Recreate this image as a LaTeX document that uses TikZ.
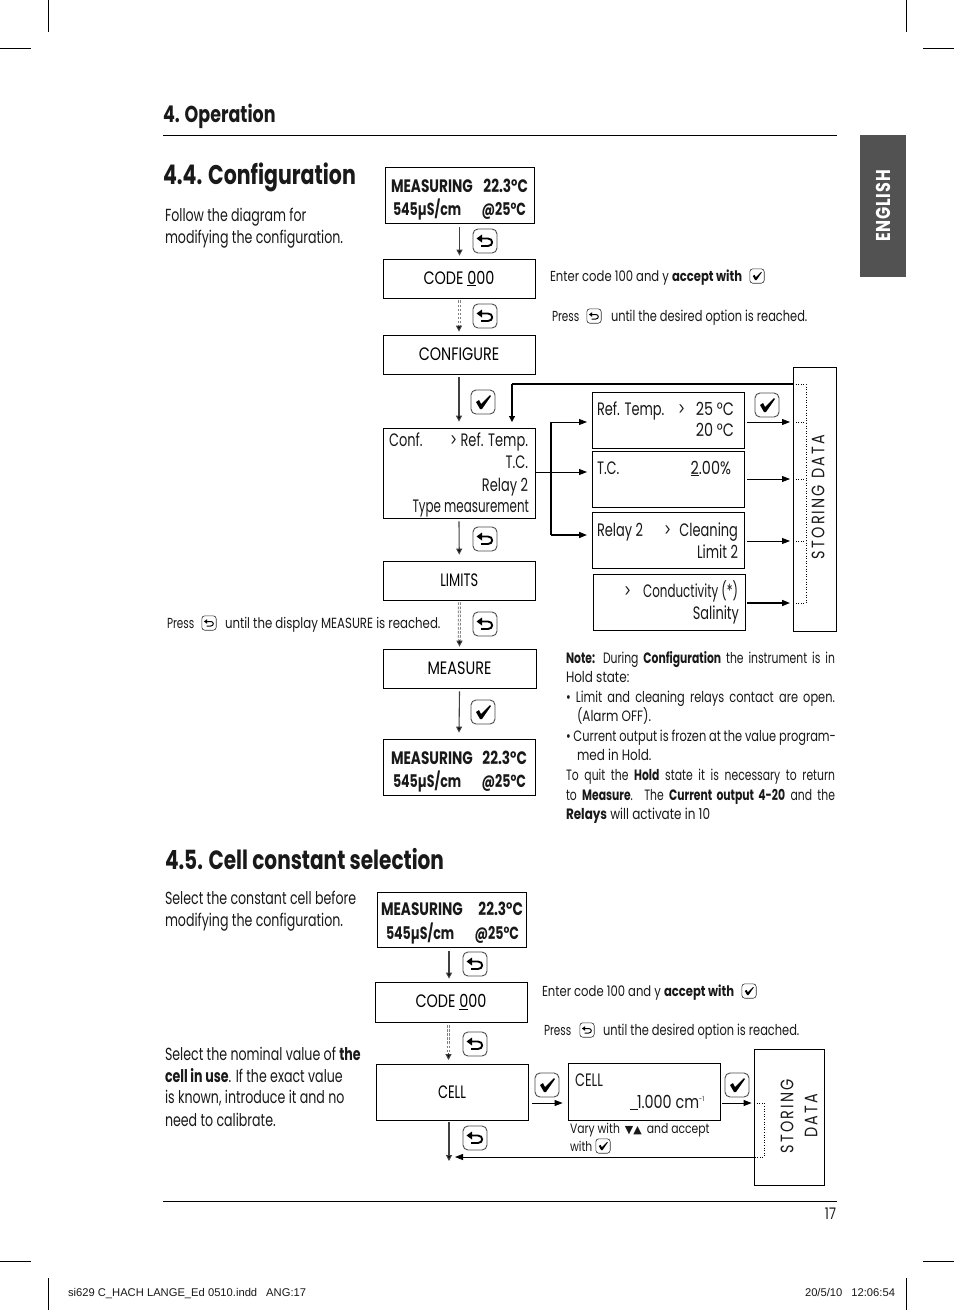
\documentclass[tikz,border=0pt]{standalone}
\usepackage{fontspec}
\usetikzlibrary{arrows.meta}
\setmainfont{Poppins}[FakeStretch=0.72]
\newfontfamily\spacedf{Poppins}[FakeStretch=0.8,LetterSpace=12]
\newfontfamily\spacedg{Poppins}[FakeStretch=0.8,LetterSpace=4]
\newfontfamily\capf{Poppins}[FakeStretch=0.8]
\newfontfamily\headf{Poppins}[FakeStretch=0.76]
\newfontfamily\nf{Poppins}[FakeStretch=0.66]
\newfontfamily\arial{Liberation Sans}
\newfontfamily\djv{DejaVu Sans}
\newcommand\fs[1]{\fontsize{#1}{#1}\selectfont}
\newcommand\TxL[5]{\node[lbl,anchor=base west] (#1) at (#2,#3) {\fs{#4}#5};}
\newcommand\TxR[5]{\node[lbl,anchor=base east] (#1) at (#2,#3) {\fs{#4}#5};}
\newcommand\Boxx[5]{\node[boxx,minimum width=#4 pt,minimum height=#5 pt] (#1) at (#2,#3) {};}
\newcommand\RetGlyph{\fill (-8.5,-2.5) -- (-3,-6.5) -- (-3,1.5) -- cycle;
 \draw (-3,-2.5) -- (3,-2.5) .. controls (8.5,-2.5) and (8.5,5) .. (3,5) -- (-4,5);}
\newcommand\ChkGlyph{\fill (-7,0) -- (-4,-2) -- (-2,2) -- (7,-7) -- (8,-6) -- (-1,7) -- (-3,7) -- cycle;}
\tikzset{
 x=1pt,y=-1pt,
 lbl/.style={inner sep=0pt,outer sep=0pt,text=black!90},
 boxx/.style={draw=black,line width=.8pt,inner sep=0pt,font=\capf\fs{18}},
 arr/.style={draw=black!75,line width=1.1pt,-{Triangle[width=6pt,length=6pt,fill=black]}},
 harr/.style={draw=black,line width=.8pt,-{Triangle[width=6pt,length=8pt]}},
 thickarr/.style={draw=black,line width=1.5pt,-{Triangle[width=6pt,length=8pt]}},
 dbl/.style={draw=black!50,line width=1pt,double=white,double distance=1pt,dash pattern=on 2.5pt off 1.6pt},
 dots/.style={draw=black,line width=.6pt,dotted},
 crop/.style={draw=black,line width=.5pt},
 retbig/.pic={\draw[draw=black!70,line width=.9pt,rounded corners=5pt,fill=white] (-12,-12) rectangle (12,12);
   \begin{scope}[line width=1.9pt]\RetGlyph\end{scope}},
 chkbig/.pic={\draw[draw=black!70,line width=.9pt,rounded corners=5pt,fill=white] (-12,-12) rectangle (12,12);
   \ChkGlyph},
 retsmall/.pic={\begin{scope}[scale=.6]\draw[draw=black!80,line width=.6pt,rounded corners=3pt,fill=white] (-12,-12) rectangle (12,12);
   \begin{scope}[line width=1pt]\RetGlyph\end{scope}\end{scope}},
 chksmall/.pic={\begin{scope}[scale=.6]\draw[draw=black!80,line width=.6pt,rounded corners=3pt,fill=white] (-12,-12) rectangle (12,12);
   \ChkGlyph\end{scope}},
}
\begin{document}
\begin{tikzpicture}
\useasboundingbox (0,0) rectangle (954,1310);
\fill[white] (0,0) rectangle (954,1310);
% crop marks
\draw[crop] (48,0)--(48,32) (0,48)--(31,48) (906,0)--(906,32) (923,48)--(954,48)
 (0,1261)--(31,1261) (48,1278)--(48,1310) (923,1261)--(954,1261) (906,1278)--(906,1310);
% header / footer
\draw[line width=.7pt] (163,135.5)--(837,135.5) (163,1201)--(837,1201);
\TxL{hop}{163}{122}{23}{\headf\bfseries 4. Operation}
\node[fill=black!68,minimum width=46pt,minimum height=142pt,inner sep=0pt] (tab) at (883,206) {};
\node[rotate=90,text=white,font=\fs{20}] (eng) at (883,206) {\spacedg\bfseries ENGLISH};
\TxR{pg}{836}{1219}{16}{\capf 17}
\TxL{foot1}{68}{1296}{11.2}{\arial si629 C\_HACH LANGE\_Ed 0510.indd\hspace{9pt}ANG:17}
\TxR{foot2}{895}{1296}{11.2}{\arial 20/5/10\hspace{9pt}12:06:54}
% 4.4
\TxL{h44}{163}{184}{27}{\headf\bfseries 4.4. Configuration}
\TxL{t1}{165}{221}{17.5}{Follow the diagram for}
\TxL{t2}{165}{243}{17.5}{modifying the configuration.}
\Boxx{mone}{459.5}{195}{149}{56}
\TxL{mone1}{391}{192}{18}{\makebox[137pt][s]{\headf\bfseries MEASURING\hfill 22.3°C}}
\TxL{mone2}{393}{215}{17.5}{\makebox[133pt][s]{\bfseries 545µS/cm\hfill @25°C}}
\node[boxx,minimum width=152pt,minimum height=39pt] (code) at (459,278.5) {CODE \underline{0}00};
\node[boxx,minimum width=152pt,minimum height=39pt] (cfg) at (459,354.5) {CONFIGURE};
\Boxx{conf}{459}{473}{152}{90}
\TxL{c1}{389}{446}{18}{Conf.}
\TxR{c2}{528}{446}{18}{> Ref. Temp.}
\TxR{c3}{528}{468}{18}{T.C.}
\TxR{c4}{528}{491}{18}{Relay 2}
\TxR{c5}{529}{512}{18}{\nf Type measurement}
\node[boxx,minimum width=152.5pt,minimum height=39pt] (lim) at (459.25,580.5) {\rmfamily LIMITS};
\node[boxx,minimum width=153pt,minimum height=39pt] (meas) at (459.5,668.5) {MEASURE};
\Boxx{mtwo}{459}{767}{152}{56}
\TxL{mt1}{391}{764}{18}{\makebox[136pt][s]{\headf\bfseries MEASURING\hfill 22.3°C}}
\TxL{mt2}{393}{787}{17.5}{\makebox[133pt][s]{\bfseries 545µS/cm\hfill @25°C}}
\Boxx{ref}{668}{420}{152}{56}
\TxL{r1}{597}{415}{18}{Ref. Temp.}
\TxL{r2}{678}{415}{18}{>}
\TxR{r3}{734}{415}{18}{\capf 25 °C}
\TxR{r4}{734}{436}{18}{\capf 20 °C}
\Boxx{tc}{668.25}{479}{151.5}{56}
\TxL{tc1}{597}{474}{18}{T.C.}
\TxR{tc2}{731}{474}{18}{\capf\underline{2}.00\%}
\Boxx{rel}{668.25}{540}{151.5}{56}
\TxL{re1}{597}{536}{18}{Relay 2}
\TxL{re2}{664}{536}{18}{>}
\TxR{re3}{738}{536}{18}{Cleaning}
\TxR{re4}{738}{558}{18}{Limit 2}
\Boxx{cnd}{669}{602}{152}{56}
\TxL{cn1}{624}{597}{18}{>}
\TxR{cn2}{738}{597}{18}{\nf Conductivity (*)}
\TxR{cn3}{739}{619}{18}{Salinity}
\Boxx{sto}{814.5}{499}{43}{264}
\node[rotate=90,lbl,font=\fs{18}] (stot) at (818,497) {\spacedf STORING DATA};
% connectors
\draw[arr] ([yshift=-4pt]mone.south) -- ([yshift=3pt]mone.south |- code.north);
\draw[dbl] ([yshift=-2pt]code.south) -- ([yshift=8pt]cfg.north);
\draw[arr] ([yshift=9pt]cfg.north) -- ([yshift=3pt]cfg.north);
\draw[arr] ([yshift=-3pt]cfg.south) -- ([yshift=6pt]conf.north);
\draw[arr] ([yshift=-3pt]conf.south) -- ([yshift=6pt]lim.north);
\draw[dbl] ([yshift=-2pt]lim.south) -- ([yshift=8pt]meas.north);
\draw[arr] ([yshift=9pt]meas.north) -- ([yshift=2pt]meas.north);
\draw[arr] ([yshift=-3pt]meas.south) -- ([yshift=6pt]mtwo.north);
\coordinate (topl) at (512,384);
\coordinate (topr) at (793,384);
\coordinate (drop) at (512,422);
\draw[line width=1.6pt] (topr) -- (topl);
\draw[arr,draw=black] (topl) -- (drop);
\coordinate (jn) at (551,472);
\draw[line width=.8pt] (conf.east |- jn) -- (jn);
\draw[line width=1.1pt] (551,422) -- (551,535);
\draw[harr] (551,422) -- (587,422);
\draw[harr] (jn) -- (587,472);
\draw[thickarr] (551,535) -- (587,535);
\draw[harr] (747,422) -- (790,422);
\draw[harr] (747,479) -- (790,479);
\draw[harr] (747,541) -- (790,541);
\draw[thickarr] (747,603) -- (790,603);
\draw[dots] (793,384)--(806,384)--(806,603)--(793,603) (793,422)--(806,422) (793,479)--(806,479) (793,541)--(806,541);
% keys
\pic at (485,241) {retbig};
\pic at (485,316) {retbig};
\pic at (483,402) {chkbig};
\pic at (485,539) {retbig};
\pic at (485,624) {retbig};
\pic at (483,712) {chkbig};
\pic at (767,405) {chkbig};
% side notes
\TxL{e1}{550}{281}{14.5}{\capf Enter code 100 and y \textbf{accept with}}
\pic at (757,276) {chksmall};
\TxL{p1}{552}{321}{14.5}{Press}
\pic at (594,316) {retsmall};
\TxL{p2}{611}{321}{15}{\headf until the desired option is reached.}
\TxL{p3}{167}{628}{14.5}{Press}
\pic at (209,623) {retsmall};
\TxL{p4}{225}{628}{14.7}{\capf until the display MEASURE is reached.}
% note
\TxL{n1}{566}{663}{15}{\makebox[269pt][s]{\rmfamily\textbf{Note:} During \textbf{Configuration} the instrument is in}}
\TxL{n2}{566}{682}{15}{\capf Hold state:}
\TxL{n3}{566}{702}{15}{\makebox[269pt][s]{\headf • Limit and cleaning relays contact are open.}}
\TxL{n4}{577}{721}{15}{\capf (Alarm OFF).}
\TxL{n5}{566}{741}{15}{\makebox[270pt][s]{\headf • Current output is frozen at the value program-}}
\TxL{n6}{577}{760}{15}{\capf med in Hold.}
\TxL{n7}{566}{780}{15}{\makebox[269pt][s]{\rmfamily To quit the \textbf{Hold} state it is necessary to return}}
\TxL{n8}{566}{800}{15}{\makebox[269pt][s]{\rmfamily to \textbf{Measure}. The \textbf{Current output 4-20} and the}}
\TxL{n9}{566}{819}{15}{\capf\textbf{Relays} will activate in 10}
% 4.5
\TxL{h45}{165}{869}{26.4}{\headf\bfseries 4.5. Cell constant selection}
\TxL{s1}{165}{904}{17.5}{Select the constant cell before}
\TxL{s2}{165}{926}{17.5}{modifying the configuration.}
\TxL{s3}{165}{1060}{17.5}{Select the nominal value of \textbf{the}}
\TxL{s4}{165}{1082}{17.5}{\textbf{cell in use}. If the exact value}
\TxL{s5}{165}{1103}{17.5}{is known, introduce it and no}
\TxL{s6}{165}{1126}{17.5}{need to calibrate.}
\Boxx{mthree}{451.5}{919.5}{149}{55}
\TxL{mh1}{381}{915}{18}{\makebox[142pt][s]{\headf\bfseries MEASURING\hfill 22.3°C}}
\TxL{mh2}{386}{939}{17.5}{\makebox[133pt][s]{\bfseries 545µS/cm\hfill @25°C}}
\node[boxx,minimum width=152pt,minimum height=40pt] (codeb) at (451,1002) {CODE \underline{0}00};
\node[boxx,minimum width=152pt,minimum height=56pt] (cell) at (452,1092) {\rmfamily CELL};
\Boxx{cellb}{644}{1091.5}{152}{57}
\TxL{cb1}{575}{1086}{18}{CELL}
\TxL{cb2}{630}{1108}{18}{\capf\underline{\hspace{8pt}}\hspace{-1pt}1.000 cm\textsuperscript{\fs{7}-1}}
\Boxx{stob}{789.25}{1117}{70.5}{136}
\node[rotate=90,lbl,font=\fs{18}] (stob1) at (787,1116) {\spacedf STORING};
\node[rotate=90,lbl,font=\fs{18}] (stob2) at (811,1116) {\spacedf DATA};
\TxL{v1}{570}{1133}{13.5}{\capf Vary with\hspace{5pt}{\djv\fs{11}▼▲}\hspace{5pt}and accept}
\TxL{v2}{570}{1151}{13.5}{\capf with}
\pic at (603,1146) {chksmall};
\TxL{e2}{542}{996}{14.5}{\capf Enter code 100 and y \textbf{accept with}}
\pic at (749,991) {chksmall};
\TxL{p5}{544}{1035}{14.5}{Press}
\pic at (587,1030) {retsmall};
\TxL{p6}{603}{1035}{15}{\headf until the desired option is reached.}
\coordinate (dashtop) at (448.5,1025);
\coordinate (dashend) at (448.5,1053);
\coordinate (cellarr) at (448.5,1060);
\draw[arr] ([yshift=-4pt]mthree.south -| 449,0) -- ([yshift=3pt]codeb.north -| 449,0);
\draw[dbl] (dashtop) -- (dashend);
\draw[arr] (dashend) -- (cellarr);
\draw[arr] ([yshift=-2pt]cell.south -| 449,0) -- (449,1161);
\coordinate (retend) at (455,1157);
\draw[harr] (stob.west |- retend) -- (retend);
\draw[harr] ([xshift=4pt]cell.east |- 0,1103) -- ([xshift=-5pt]cellb.west |- 0,1103);
\draw[harr] ([xshift=2pt]cellb.east |- 0,1103) -- ([xshift=-2pt]stob.west |- 0,1103);
\draw[dots] (754,1103)--(764,1103)--(764,1157)--(754,1157);
\pic at (475,964) {retbig};
\pic at (475,1044) {retbig};
\pic at (475,1138) {retbig};
\pic at (547,1085) {chkbig};
\pic at (737,1085) {chkbig};
\end{tikzpicture}
\end{document}
